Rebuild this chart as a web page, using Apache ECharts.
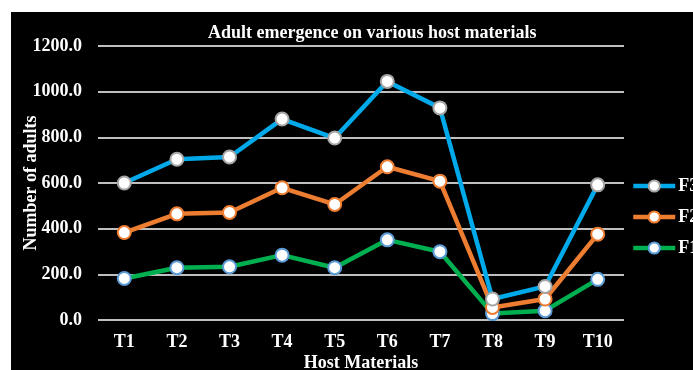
<!DOCTYPE html>
<html>
<head>
<meta charset="utf-8">
<script src="https://cdn.jsdelivr.net/npm/echarts@6/dist/echarts.min.js"></script>
<style>
  html, body { margin: 0; padding: 0; background: #ffffff; }
  #chart { position: absolute; left: 11px; top: 12px; width: 682px; height: 358px; background: #000000; }
</style>
</head>
<body>
<div id="chart"></div>
<script>
// Host materials on the x axis
const categories = ['T1', 'T2', 'T3', 'T4', 'T5', 'T6', 'T7', 'T8', 'T9', 'T10'];

// Adults emerged per generation
const f1Values = [182, 229, 233, 284, 229, 351, 299, 28, 41, 178];
const f2Values = [383, 465, 471, 579, 506, 671, 608, 55, 92, 376];
const f3Values = [600, 704, 714, 880, 797, 1045, 929, 92, 147, 592];

const yTicks = { min: 0, max: 1200, step: 200 };

const serif = '"Liberation Serif", "Times New Roman", serif';

function lineSeries(name, values, lineColor, markerBorder) {
  return {
    name: name,
    type: 'line',
    data: values,
    symbol: 'circle',
    symbolSize: 13,
    lineStyle: { color: lineColor, width: 4.5 },
    itemStyle: { color: '#ffffff', borderColor: markerBorder, borderWidth: 2 },
    emphasis: { disabled: true },
    z: 3
  };
}

const chart = echarts.init(document.getElementById('chart'), null, { renderer: 'canvas' });
chart.setOption({
  backgroundColor: '#000000',
  animation: false,
  title: {
    text: 'Adult emergence on various host materials',
    left: 197,
    top: 12,
    padding: 0,
    textStyle: { color: '#ffffff', fontFamily: serif, fontWeight: 'bold', fontSize: 18 }
  },
  legend: {
    orient: 'vertical',
    left: 620,
    top: 165,
    padding: 0,
    itemWidth: 42,
    itemHeight: 14,
    itemGap: 13,
    lineStyle: { width: 4.5 },
    data: ['F3', 'F2', 'F1'],
    textStyle: { color: '#ffffff', fontFamily: serif, fontWeight: 'bold', fontSize: 18, padding: [0, 0, 0, -2] }
  },
  grid: { left: 87, right: 69, top: 34, bottom: 50, containLabel: false, outerBoundsMode: 'none' },
  xAxis: {
    type: 'category',
    data: categories,
    boundaryGap: true,
    axisLine: { show: false },
    axisTick: { show: false },
    axisLabel: { color: '#ffffff', fontFamily: serif, fontWeight: 'bold', fontSize: 18, margin: 13 },
    name: 'Host Materials',
    nameLocation: 'middle',
    nameGap: 34,
    nameMoveOverlap: false,
    nameTextStyle: { color: '#ffffff', fontFamily: serif, fontWeight: 'bold', fontSize: 18 }
  },
  yAxis: {
    type: 'value',
    min: yTicks.min,
    max: yTicks.max,
    interval: yTicks.step,
    axisLine: { show: false },
    axisTick: { show: false },
    splitLine: { lineStyle: { color: '#bfbfbf', width: 2 } },
    axisLabel: {
      color: '#ffffff', fontFamily: serif, fontWeight: 'bold', fontSize: 18, margin: 16,
      formatter: v => v.toFixed(1)
    },
    name: 'Number of adults',
    nameLocation: 'middle',
    nameGap: 58,
    nameRotate: 90,
    nameMoveOverlap: false,
    nameTextStyle: { color: '#ffffff', fontFamily: serif, fontWeight: 'bold', fontSize: 18 }
  },
  series: [
    lineSeries('F1', f1Values, '#00b050', '#5b9bd5'),
    lineSeries('F2', f2Values, '#ed7d31', '#ed7d31'),
    lineSeries('F3', f3Values, '#00aaea', '#a5a5a5')
  ]
});
</script>
</body>
</html>
